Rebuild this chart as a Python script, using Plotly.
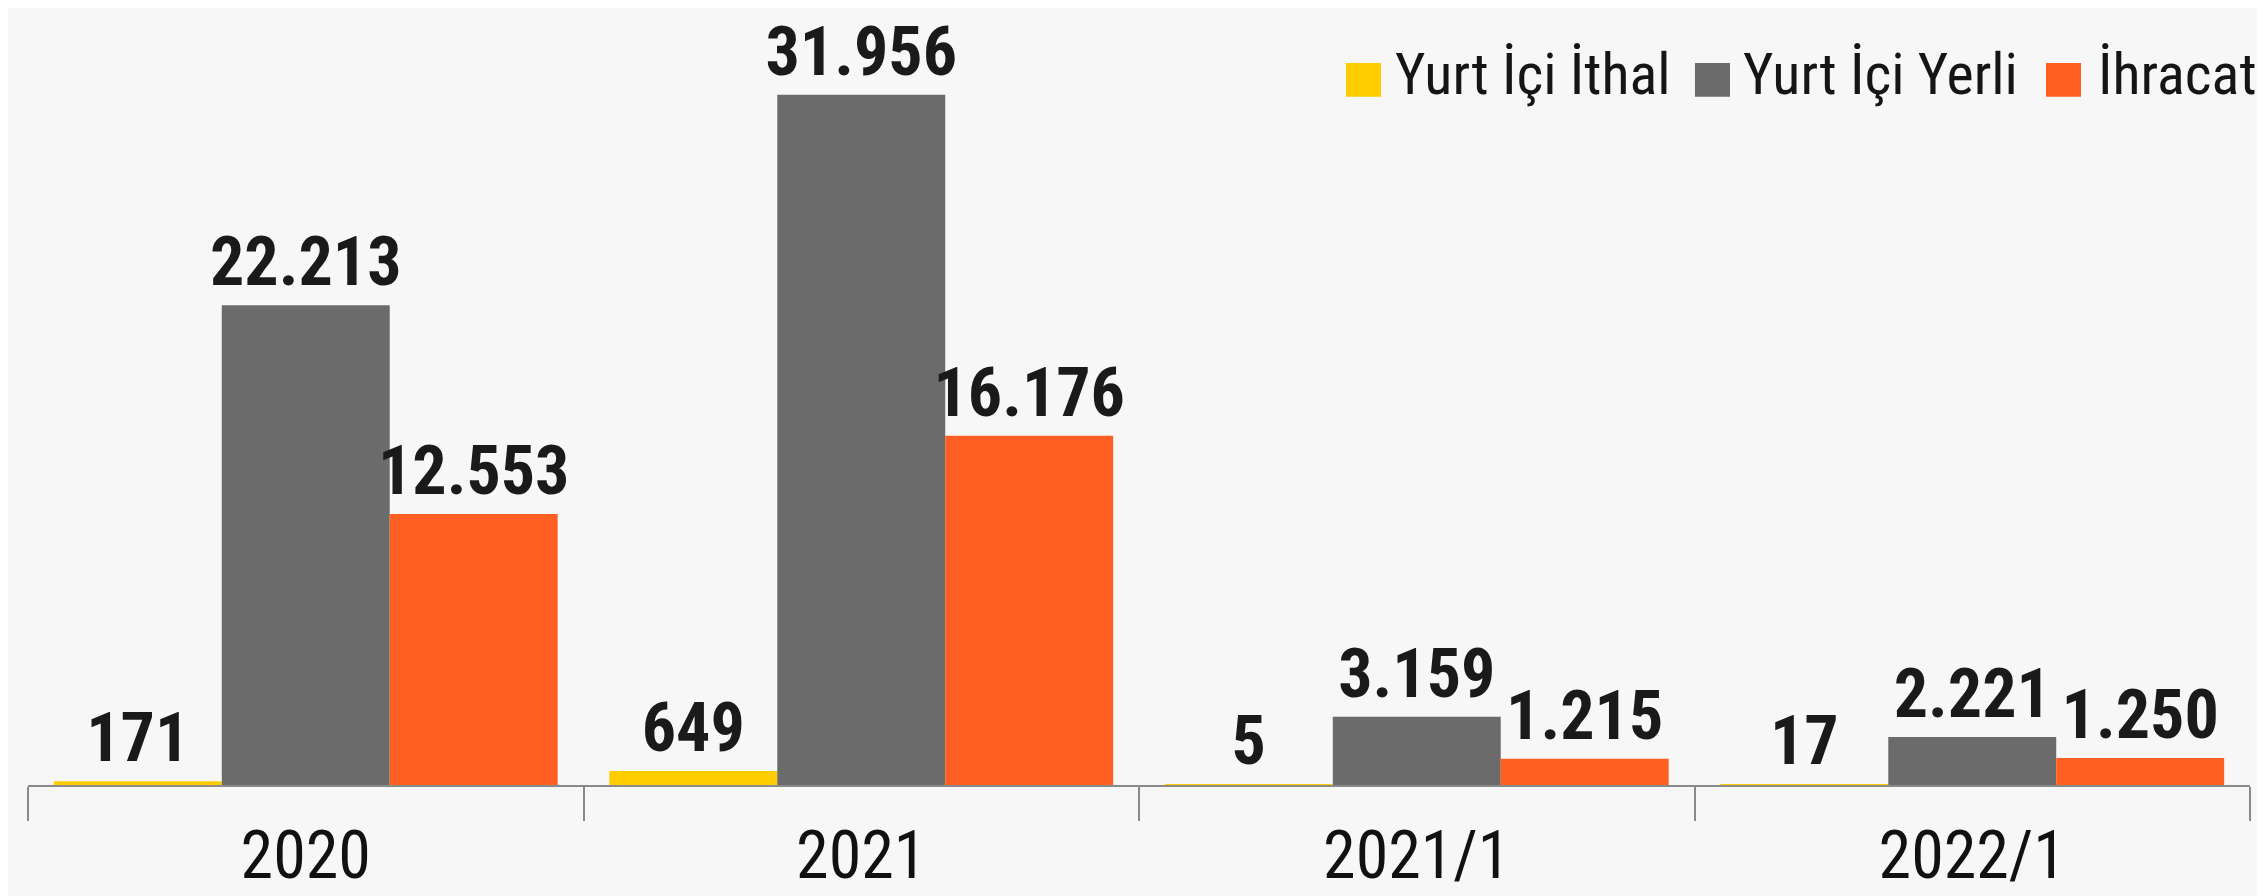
import plotly.graph_objects as go

categories = ["2020", "2021", "2021/1", "2022/1"]
series_names = ["Yurt İçi İthal", "Yurt İçi Yerli", "İhracat"]
yurt_ici_ithal = [171, 649, 5, 17]
yurt_ici_yerli = [22213, 31956, 3159, 2221]
ihracat = [12553, 16176, 1215, 1250]
colors = ["#FFCC00", "#6B6B6B", "#FF5F22"]

FONT = "Roboto Condensed, Open Sans Condensed, sans-serif"
W, H = 2265, 896
L, R, T, B = 20, 23, 10, 117

fig = go.Figure()
for name, vals, col in zip(series_names, [yurt_ici_ithal, yurt_ici_yerli, ihracat], colors):
    fig.add_trace(go.Bar(
        x=categories, y=vals, name=name,
        marker=dict(color=col, line=dict(width=0)),
        texttemplate="%{y:,.0f}", textposition="outside", constraintext="none",
        textfont=dict(family=FONT, size=68, color="#1a1a1a", weight="bold"),
        cliponaxis=False, showlegend=False,
    ))

# custom legend (large squares, as in the reference)
pw, ph = W - L - R, H - T - B
def px_x(p): return (p - L) / pw
def px_y(p): return (H - B - p) / ph
sq_left = [1338, 1687, 2038]
txt_left = [1385, 1733, 2088]
shapes, annos = [], []
for name, col, sx, tx in zip(series_names, colors, sq_left, txt_left):
    shapes.append(dict(type="rect", xref="paper", yref="paper",
                       x0=px_x(sx), x1=px_x(sx + 35), y0=px_y(89), y1=px_y(55),
                       fillcolor=col, line=dict(width=0), layer="above"))
    annos.append(dict(text=name, xref="paper", yref="paper", x=px_x(tx), y=px_y(66),
                      xanchor="left", yanchor="middle", showarrow=False,
                      font=dict(family=FONT, size=58, color="#151515")))

fig.update_layout(
    width=W, height=H,
    margin=dict(l=L, r=R, t=T, b=B),
    paper_bgcolor="#F7F7F7", plot_bgcolor="#F7F7F7",
    barmode="group", bargap=0.093, bargroupgap=0,
    separators=",.",
    showlegend=False,
    shapes=shapes, annotations=annos,
    xaxis=dict(type="category", showline=True, linecolor="#8a8a8a", linewidth=2,
               ticks="outside", tickson="boundaries", ticklen=34, tickcolor="#8a8a8a", tickwidth=2,
               ticklabelstandoff=12,
               tickfont=dict(family=FONT, size=66, color="#111111"), showgrid=False),
    yaxis=dict(range=[0, 35512], visible=False, showgrid=False, zeroline=False),
)
fig.write_html("out.html")
